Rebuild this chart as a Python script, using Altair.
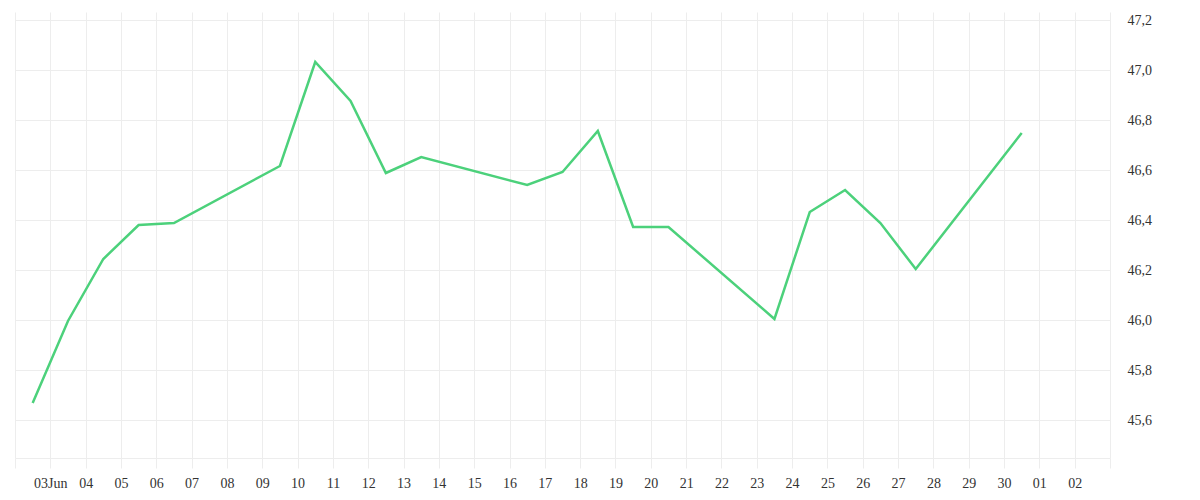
import json
import altair as alt
import pandas as pd

# ---- data ----
dates = [
    "2025-06-02", "2025-06-03", "2025-06-04", "2025-06-05", "2025-06-06",
    "2025-06-09", "2025-06-10", "2025-06-11", "2025-06-12", "2025-06-13",
    "2025-06-16", "2025-06-17", "2025-06-18", "2025-06-19", "2025-06-20",
    "2025-06-23", "2025-06-24", "2025-06-25", "2025-06-26", "2025-06-27",
    "2025-06-30",
]
values = [
    45.668, 45.996, 46.244, 46.380, 46.388,
    46.616, 47.032, 46.876, 46.588, 46.652,
    46.540, 46.592, 46.756, 46.372, 46.372,
    46.004, 46.432, 46.520, 46.388, 46.204,
    46.748,
]
x_tick_labels = [
    "", "03Jun", "04", "05", "06", "07", "08", "09", "10", "11", "12", "13",
    "14", "15", "16", "17", "18", "19", "20", "21", "22", "23", "24", "25",
    "26", "27", "28", "29", "30", "01", "02", "",
]
y_ticks = [45.6, 45.8, 46.0, 46.2, 46.4, 46.6, 46.8, 47.0, 47.2]
y_domain = [45.448, 47.232]

df = pd.DataFrame({"t": [d + "T12:00:00Z" for d in dates], "v": values})

start = pd.Timestamp("2025-06-02T00:00:00Z")
tick_days = [start + pd.Timedelta(days=i) for i in range(len(x_tick_labels))]
tick_vals = [alt.DateTime(year=t.year, month=t.month, date=t.day, utc=True) for t in tick_days]
start_ms = int(start.value // 1_000_000)

label_expr = f"{json.dumps(x_tick_labels)}[round((datum.value - {start_ms}) / 86400000)]"

GRID = "#ededed"
FONT = "Liberation Serif"

chart = (
    alt.Chart(df)
    .mark_line(color="#4CD17B", strokeWidth=2.5)
    .encode(
        x=alt.X(
            "t:T",
            scale=alt.Scale(
                type="utc",
                domain=[tick_vals[0], tick_vals[-1]],
                nice=False,
            ),
            axis=alt.Axis(
                title=None,
                values=tick_vals,
                labelExpr=label_expr,
                grid=True,
                gridColor=GRID,
                tickColor=GRID,
                tickSize=10,
                domainColor=GRID,
                labelPadding=8,
                labelFont=FONT,
                labelFontSize=14,
                labelColor="#333",
                labelFlush=False,
                labelOverlap=False,
            ),
        ),
        y=alt.Y(
            "v:Q",
            scale=alt.Scale(domain=y_domain, nice=False, zero=False),
            axis=alt.Axis(
                orient="right",
                title=None,
                values=y_ticks,
                labelExpr="replace(format(datum.value, '.1f'), '.', ',')",
                grid=True,
                gridColor=GRID,
                ticks=False,
                domain=False,
                labelPadding=17,
                labelFont=FONT,
                labelFontSize=14,
                labelColor="#333",
                labelBaseline="middle",
            ),
        ),
    )
    .properties(
        width=1095,
        height=446,
        autosize=alt.AutoSizeParams(type="none"),
        padding={"left": 7, "top": 4, "right": 60, "bottom": 34},
    )
    .configure_view(stroke=None)
)

chart.save("out.html", embed_options={"renderer": "svg", "actions": False})
